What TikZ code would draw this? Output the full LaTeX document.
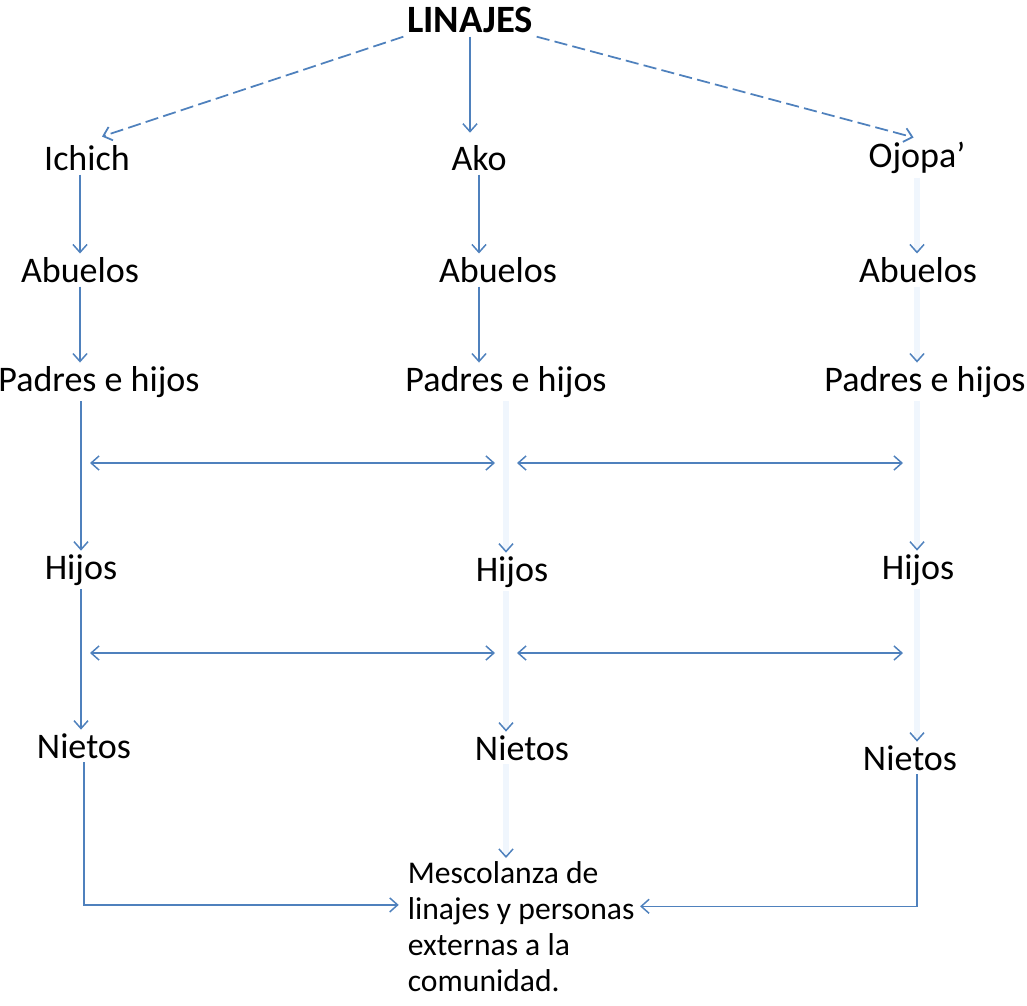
\documentclass[tikz,border=0pt]{standalone}
\usepackage{fontspec}
\setmainfont{Carlito}
\usepackage{tikz}
\usetikzlibrary{arrows.meta}
\usetikzlibrary{positioning}
\definecolor{lineblue}{RGB}{79,129,189}
\definecolor{faintblue}{RGB}{240,246,253}
\tikzstyle{word}=[inner sep=2pt, font=\fontsize{20.5}{24}\selectfont]
\tikzstyle{link}=[draw=lineblue, line width=0.85pt, -{Straight Barb[length=4.5pt,width=8pt]}]
\tikzstyle{faint}=[draw=faintblue, line width=3pt, -{Straight Barb[length=4.5pt,width=8pt,color=lineblue,line width=0.85pt]}]
\tikzstyle{twoway}=[link, {Straight Barb[length=4.5pt,width=8pt]}-{Straight Barb[length=4.5pt,width=8pt]}]

\begin{document}
\begin{tikzpicture}[x=0.02cm, y=-0.02cm]
        \useasboundingbox (0,0) rectangle (1027,1005);

        % Top
        \node at (470, 20) [word, font=\fontsize{22}{26}\selectfont\bfseries] (linajes) {LINAJES};

        % Lineages
        \node at (87, 158) [word] (ichich) {Ichich};
        \node at (479, 158) [word] (ako) {Ako};
        \node at (917, 158) [word] (ojopa) {Ojopa’};

        % Generations
        \node at (80, 270) [word] (abu_1) {Abuelos};
        \node at (498, 270) [word] (abu_2) {Abuelos};
        \node at (918, 270) [word] (abu_3) {Abuelos};
        \node at (99, 382) [word] (pad_1) {Padres e hijos};
        \node at (506, 382) [word] (pad_2) {Padres e hijos};
        \node at (925, 382) [word] (pad_3) {Padres e hijos};
        \node at (81, 570) [word] (hij_1) {Hijos};
        \node at (512, 572) [word] (hij_2) {Hijos};
        \node at (918, 570) [word] (hij_3) {Hijos};
        \node at (84, 746) [word] (nie_1) {Nietos};
        \node at (522, 748) [word] (nie_2) {Nietos};
        \node at (910, 758) [word] (nie_3) {Nietos};

        % Result
        \node at (404, 858) [anchor=north west, align=left, inner sep=2pt, font=\fontsize{18}{20.5}\selectfont] (mezcla)
        {Mescolanza de\\ linajes y personas\\ externas a la\\ comunidad.};

        % Linajes -> lineages
        \draw [link, line width=1pt, dash pattern=on 7.5pt off 3pt, shorten >=9pt] (linajes.south west) -- (ichich.north);
        \draw [link, shorten >=5pt] (linajes.south) -- (linajes.south |- ako.north);
        \draw [link, line width=1pt, dash pattern=on 7.5pt off 3pt, shorten >=2pt] (linajes.south east) -- (ojopa.north);

        % Left column
        \draw [link] (ichich.south -| abu_1.north) -- (abu_1.north);
        \draw [link] (abu_1.south) -- (abu_1.south |- pad_1.north);
        \draw [link] (pad_1.south -| hij_1.north) -- (hij_1.north);
        \draw [link] (hij_1.south) -- (hij_1.south |- nie_1.north);

        % Middle column
        \draw [link] (ako.south) -- (ako.south |- abu_2.north);
        \draw [link] (abu_2.south -| ako.south) -- (ako.south |- pad_2.north);
        \draw [faint] (pad_2.south) -- (pad_2.south |- hij_2.north);
        \draw [faint] (hij_2.south -| pad_2.south) -- (pad_2.south |- nie_2.north);
        \draw [faint] (nie_2.south -| pad_2.south) -- (pad_2.south |- mezcla.north);

        % Right column
        \draw [faint] (ojopa.south) -- (ojopa.south |- abu_3.north);
        \draw [faint] (abu_3.south -| ojopa.south) -- (ojopa.south |- pad_3.north);
        \draw [faint] (pad_3.south -| ojopa.south) -- (ojopa.south |- hij_3.north);
        \draw [faint] (hij_3.south -| ojopa.south) -- (ojopa.south |- nie_3.north);

        % Between lineages
        \foreach \y/\n in {463/a, 653/b} {
          \coordinate (\n_1) at (90, \y);
          \coordinate (\n_2) at (495, \y);
          \coordinate (\n_3) at (517, \y);
          \coordinate (\n_4) at (903, \y);
          \draw [twoway] (\n_1) -- (\n_2);
          \draw [twoway] (\n_3) -- (\n_4);
        }

        % Nietos -> Mescolanza
        \draw [link, shorten >=3pt] (nie_1.south) |- ([yshift=-26.7pt]mezcla.north west);
        \draw [link, shorten >=1pt] (nie_3.south -| ojopa.south) |- ([yshift=-27.5pt]mezcla.north east);
\end{tikzpicture}
\end{document}
